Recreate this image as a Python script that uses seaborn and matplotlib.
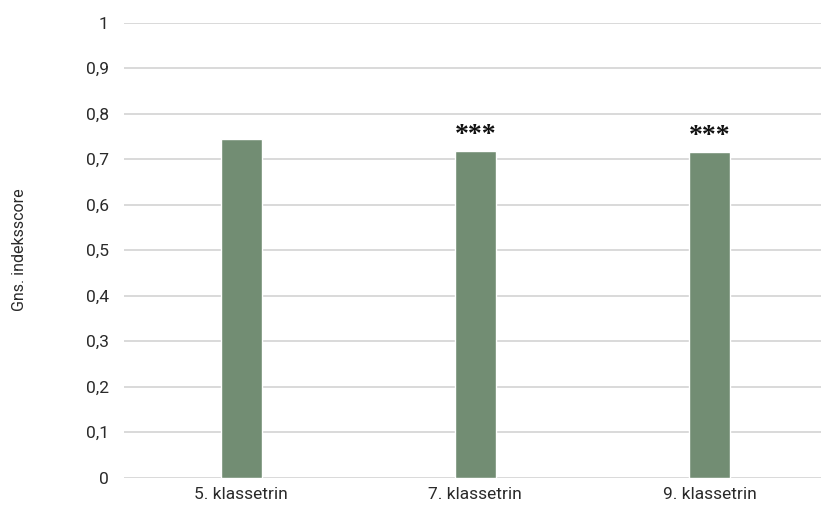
import matplotlib
matplotlib.use("Agg")
import matplotlib.pyplot as plt
import pandas as pd
import seaborn as sns

grades = ["5. klassetrin", "7. klassetrin", "9. klassetrin"]
scores = [0.744, 0.717, 0.716]
markers = ["", "***", "***"]
y_ticks = [0, 0.1, 0.2, 0.3, 0.4, 0.5, 0.6, 0.7, 0.8, 0.9, 1]
y_tick_labels = ["0", "0,1", "0,2", "0,3", "0,4", "0,5", "0,6", "0,7", "0,8", "0,9", "1"]

sns.set_theme(style="white")
plt.rcParams["font.family"] = ["Roboto", "DejaVu Sans"]

df = pd.DataFrame({"grade": grades, "score": scores})

fig = plt.figure(figsize=(8.21, 5.08), dpi=100)
ax = fig.add_axes([0.151, 0.060, 0.856, 0.8957])
sns.barplot(data=df, x="grade", y="score", color="#728D73", saturation=1,
            width=0.175, ax=ax)

ax.set_ylim(0, 1)
ax.set_yticks(y_ticks)
ax.set_yticklabels(y_tick_labels)
ax.yaxis.grid(True, color="#D0D0D0", linewidth=1.1)
ax.set_axisbelow(True)
for side in ["top", "right", "left", "bottom"]:
    ax.spines[side].set_visible(False)
ax.tick_params(axis="y", length=0, pad=11, labelsize=12.5, labelcolor="#2a2a2a")
ax.tick_params(axis="x", length=0, pad=7, labelsize=12.5, labelcolor="#2a2a2a")

ax.set_xlabel("")
ax.set_ylabel("Gns. indeksscore", fontsize=11.5, color="#2a2a2a", labelpad=42)

# significance stars
for i, (val, mark) in enumerate(zip(scores, markers)):
    if mark:
        ax.annotate(mark, xy=(i, val), xytext=(0, 2), textcoords="offset points",
                    ha="center", va="bottom", fontsize=20, fontweight="bold",
                    family="Liberation Serif", color="#111111")

fig.savefig("out.png", dpi=100)
